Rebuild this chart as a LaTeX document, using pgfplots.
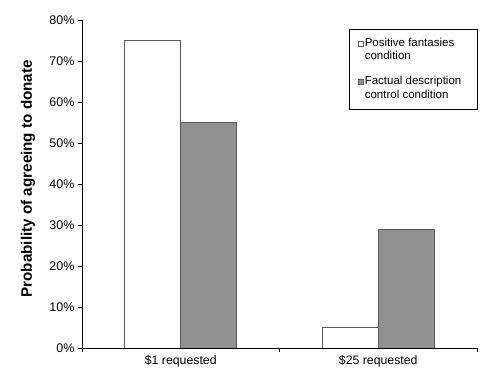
\documentclass[border=0pt]{standalone}
\usepackage{fontspec}
\setmainfont{Liberation Sans}
\usepackage{pgfplots}
\pgfplotsset{compat=1.18}
\definecolor{bargray}{RGB}{145,145,145}
\definecolor{edgegray}{RGB}{90,90,90}
\pgfplotsset{sqlegend/.style={legend image code/.code={\filldraw[draw=edgegray, fill=#1, line width=0.5pt] (0bp,4bp) rectangle (5bp,9bp); \path[draw=none, fill=none] (0bp,-9bp) -- (0bp,9bp);}}}
\begin{document}
\begin{tikzpicture}
\begin{axis}[
  at={(0bp,0bp)}, anchor=south west,
  scale only axis, width=395bp, height=328bp,
  xmin=-0.5, xmax=1.5, ymin=0, ymax=80,
  axis x line*=bottom, axis y line*=left,
  axis line style={-, black, line width=0.8pt},
  tick align=outside,
  ybar=0pt, bar width=56bp,
  xtick={0,1}, xticklabels={\$1 requested,\$25 requested},
  major x tick style={draw=none},
  minor xtick={-0.5,0.5,1.5},
  minor tick length=4bp, major tick length=4bp,
  minor x tick style={black, line width=0.8pt},
  major y tick style={black, line width=0.8pt},
  ytick={0,10,...,80},
  yticklabels={0\%,10\%,20\%,30\%,40\%,50\%,60\%,70\%,80\%},
  yticklabel style={font=\fontsize{12.5bp}{14bp}\selectfont},
  xticklabel style={font=\fontsize{12.3bp}{14bp}\selectfont},
  every axis y label/.style={at={(axis description cs:0,0.516)}, xshift=-54bp, rotate=90, anchor=center, font=\bfseries\fontsize{15.2bp}{17bp}\selectfont},
  ylabel={Probability of agreeing to donate},
  legend style={at={(axis description cs:0.676,0.973)}, anchor=north west, draw=black, line width=0.6pt, inner xsep=9bp, inner ysep=8bp, font=\fontsize{11.5bp}{13.5bp}\selectfont, row sep=13bp, column sep=0bp, nodes={align=left, inner sep=1bp}},
  legend cell align=left,
]
\addplot[fill=white, draw=edgegray, line width=0.6pt, sqlegend=white] coordinates {(0,75) (1,5)};
\addlegendentry{Positive fantasies\\condition}
\addplot[fill=bargray, draw=edgegray, line width=0.6pt, sqlegend=bargray] coordinates {(0,55) (1,29)};
\addlegendentry{Factual description\rule{6bp}{0pt}\\control condition}
\end{axis}
\pgfresetboundingbox
\path[use as bounding box] (-82bp,-29bp) rectangle (415bp,348bp);
\end{tikzpicture}
\end{document}
